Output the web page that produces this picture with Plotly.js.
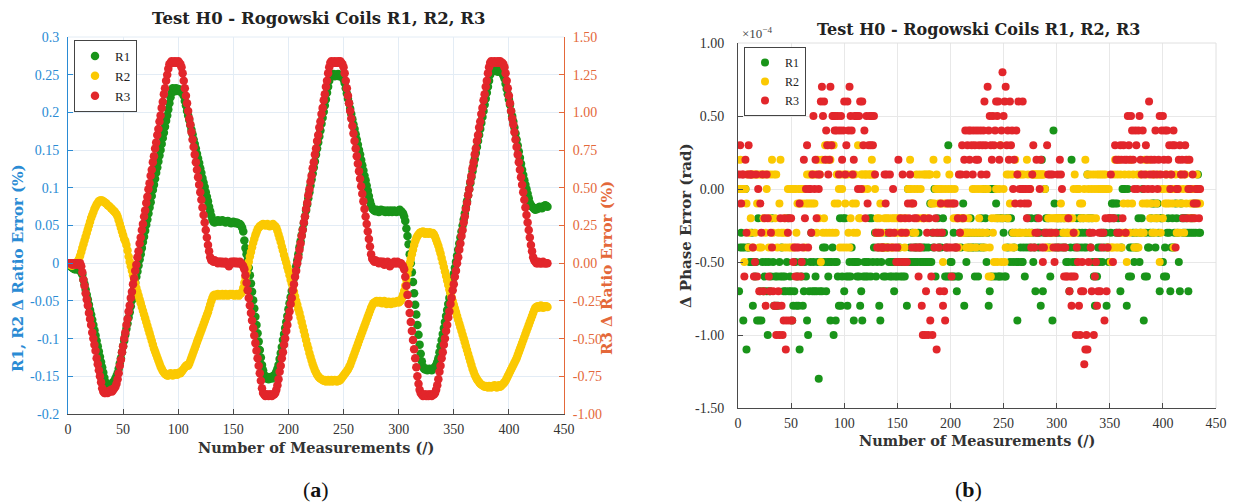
<!DOCTYPE html>
<html>
<head>
<meta charset="utf-8">
<script src="https://cdn.plot.ly/plotly-3.0.1.min.js"></script>
<style>
html,body{margin:0;padding:0;background:#fff;}
#chart{width:1233px;height:502px;}
</style>
</head>
<body>
<div id="chart"></div>
<script>
// ---------------- DATA ----------------
const seriesNames = ['R1', 'R2', 'R3'];
const xTicks = [0, 50, 100, 150, 200, 250, 300, 350, 400, 450];
const xTickText = ['0', '50', '100', '150', '200', '250', '300', '350', '400', '450'];
const ratioTicks = [-0.2, -0.15, -0.1, -0.05, 0, 0.05, 0.1, 0.15, 0.2, 0.25, 0.3];
const ratioTickText = ['-0.2', '-0.15', '-0.1', '-0.05', '0', '0.05', '0.1', '0.15', '0.2', '0.25', '0.3'];
const r3Ticks = [-1, -0.75, -0.5, -0.25, 0, 0.25, 0.5, 0.75, 1, 1.25, 1.5];
const r3TickText = ['-1.00', '-0.75', '-0.50', '-0.25', '0.00', '0.25', '0.50', '0.75', '1.00', '1.25', '1.50'];
const phaseTicks = [-1.5, -1, -0.5, 0, 0.5, 1];
const phaseTickText = ['-1.50', '-1.00', '-0.50', '0.00', '0.50', '1.00'];

// (a) ratio error, R1 and R2 in %, left axis
const ratioR1 = [0.000,-0.003,-0.005,-0.006,-0.007,-0.008,-0.008,-0.007,-0.008,-0.009,-0.010,-0.012,
-0.015,-0.022,-0.028,-0.035,-0.042,-0.048,-0.055,-0.062,-0.068,-0.075,-0.082,-0.089,-0.096,-0.103,-0.110,-0.117,-0.124,-0.131,-0.138,-0.145,-0.152,
-0.158,-0.162,-0.163,-0.162,-0.163,-0.161,-0.160,-0.158,-0.156,-0.153,-0.150,
-0.146,-0.140,-0.133,-0.126,-0.118,-0.110,-0.103,-0.095,-0.087,-0.080,-0.072,-0.065,-0.057,-0.049,-0.041,-0.034,-0.026,-0.018,-0.011,-0.003,0.005,0.012,0.020,0.028,0.035,0.043,0.051,0.058,0.066,0.074,0.081,0.089,0.097,0.104,0.112,0.120,0.127,0.135,0.143,0.150,0.158,0.166,0.173,0.181,0.189,0.196,0.204,0.212,
0.220,0.226,0.232,0.230,0.228,0.232,0.229,0.231,0.228,0.230,0.227,0.225,0.222,
0.215,0.209,0.202,0.196,0.190,0.183,0.177,0.171,0.164,0.158,0.152,0.145,0.139,0.133,0.126,0.120,0.113,0.107,0.101,0.094,0.088,0.082,0.075,0.069,0.063,0.058,
0.055,0.054,0.056,0.055,0.057,0.056,0.055,0.056,0.057,0.056,0.055,0.054,0.055,0.056,0.055,0.054,0.053,0.054,0.055,0.054,0.053,0.054,0.053,0.052,0.052,0.050,0.047,
0.042,0.030,0.020,0.012,0.004,
-0.006,-0.016,-0.027,-0.038,-0.049,-0.060,-0.071,-0.082,-0.093,-0.104,-0.115,-0.125,-0.135,-0.142,-0.148,
-0.152,-0.153,-0.151,-0.154,-0.152,-0.151,-0.153,-0.150,-0.149,-0.147,-0.144,-0.140,
-0.135,-0.127,-0.119,-0.111,-0.102,-0.094,-0.086,-0.078,-0.070,-0.061,-0.053,-0.045,-0.037,-0.029,-0.020,-0.012,-0.004,0.004,0.012,0.021,0.029,0.037,0.045,0.053,0.062,0.070,0.078,0.086,0.094,0.103,0.111,0.119,0.127,0.135,0.144,0.152,0.160,0.168,0.176,0.185,0.193,0.201,0.209,0.217,0.226,0.234,0.242,
0.248,0.250,0.249,0.251,0.248,0.250,0.249,0.251,0.248,0.250,0.249,0.247,0.244,
0.239,0.232,0.225,0.218,0.212,0.205,0.198,0.191,0.184,0.178,0.171,0.164,0.157,0.150,0.144,0.137,0.130,0.123,0.116,0.110,0.103,0.096,0.089,0.082,0.077,0.073,
0.071,0.070,0.069,0.071,0.070,0.068,0.069,0.071,0.070,0.069,0.070,0.068,0.069,0.070,0.068,0.069,0.070,0.068,0.069,0.070,0.069,0.068,0.069,0.070,0.071,0.069,0.068,0.066,0.062,
0.056,0.046,0.036,0.025,0.012,0.000,-0.012,-0.025,-0.040,-0.055,-0.068,-0.082,-0.095,-0.108,-0.120,-0.130,
-0.137,-0.140,-0.141,-0.140,-0.142,-0.141,-0.140,-0.141,-0.142,-0.140,-0.139,-0.138,-0.135,-0.131,
-0.126,-0.118,-0.110,-0.102,-0.094,-0.086,-0.078,-0.070,-0.062,-0.054,-0.046,-0.038,-0.030,-0.022,-0.014,-0.006,0.002,0.010,0.018,0.026,0.034,0.042,0.050,0.058,0.066,0.074,0.082,0.090,0.098,0.106,0.114,0.122,0.130,0.138,0.146,0.154,0.162,0.170,0.178,0.186,0.194,0.202,0.210,0.218,0.226,0.234,0.242,
0.250,0.254,0.256,0.255,0.257,0.255,0.256,0.254,0.256,0.255,0.254,0.252,0.249,0.245,
0.238,0.231,0.224,0.217,0.210,0.202,0.195,0.188,0.180,0.172,0.164,0.156,0.148,0.140,0.132,0.124,0.117,0.110,0.104,0.098,0.092,0.086,0.080,0.077,
0.075,0.074,0.072,0.071,0.073,0.072,0.074,0.075,0.074,0.073,0.075,0.076,0.077,0.076,0.075];

const ratioR2 = [0.000,-0.002,-0.003,-0.003,-0.002,-0.001,0.000,0.001,0.003,0.006,
0.010,0.015,0.020,0.025,0.030,0.035,0.040,0.045,0.050,0.055,0.060,0.064,0.068,0.072,0.075,0.078,0.080,0.082,
0.083,0.083,
0.083,0.082,0.081,0.080,0.079,0.077,0.076,0.075,0.073,0.072,0.070,0.069,0.067,0.065,
0.062,0.057,0.052,0.047,0.042,0.037,0.032,0.029,0.024,0.017,0.009,0.002,-0.004,-0.010,-0.016,-0.022,-0.027,-0.033,-0.038,-0.043,-0.048,-0.053,-0.058,-0.063,-0.068,-0.073,-0.078,-0.083,-0.088,-0.093,-0.098,-0.103,-0.108,-0.113,-0.117,-0.121,-0.125,-0.129,-0.133,-0.137,-0.140,-0.143,-0.145,-0.147,-0.148,-0.149,
-0.149,-0.148,-0.146,-0.147,-0.149,-0.148,-0.146,-0.147,-0.148,-0.146,-0.145,-0.146,-0.144,-0.142,-0.140,
-0.138,-0.136,-0.135,-0.136,-0.133,-0.129,-0.125,-0.121,-0.117,-0.113,-0.109,-0.105,-0.101,-0.097,-0.093,-0.089,-0.085,-0.081,-0.077,-0.073,-0.069,-0.065,-0.060,-0.055,-0.050,-0.046,
-0.043,-0.042,-0.043,-0.042,-0.041,-0.043,-0.042,-0.042,-0.041,-0.043,-0.042,-0.041,-0.042,-0.043,-0.042,-0.041,-0.042,-0.041,-0.042,-0.043,-0.042,-0.041,-0.042,-0.043,-0.041,-0.040,-0.038,
-0.033,-0.026,-0.019,-0.012,-0.005,0.002,0.009,0.015,0.021,0.027,0.032,0.037,0.041,0.045,0.047,0.049,0.050,0.051,0.052,0.051,
0.050,0.051,0.052,0.050,0.049,0.050,0.051,0.052,0.050,0.049,0.047,0.043,
0.038,0.033,0.028,0.022,0.017,0.011,0.006,0.001,-0.005,-0.010,-0.016,-0.022,-0.027,-0.033,-0.038,-0.044,-0.050,-0.055,-0.061,-0.066,-0.072,-0.078,-0.084,-0.090,-0.096,-0.102,-0.108,-0.113,-0.119,-0.124,-0.129,-0.134,-0.138,-0.142,-0.145,-0.148,-0.150,-0.152,-0.153,-0.154,
-0.155,-0.156,-0.155,-0.157,-0.156,-0.155,-0.157,-0.156,-0.155,-0.157,-0.156,-0.155,-0.156,-0.157,-0.155,-0.156,-0.155,-0.153,-0.151,-0.149,-0.147,-0.145,
-0.143,-0.141,-0.138,-0.135,-0.131,-0.127,-0.123,-0.119,-0.115,-0.111,-0.107,-0.103,-0.099,-0.095,-0.091,-0.087,-0.083,-0.079,-0.075,-0.071,-0.067,-0.063,-0.059,-0.056,
-0.053,-0.052,-0.051,-0.050,-0.052,-0.051,-0.050,-0.052,-0.053,-0.051,-0.050,-0.052,-0.054,-0.052,-0.051,-0.053,-0.054,-0.052,-0.051,-0.053,-0.052,-0.051,-0.050,-0.052,-0.051,-0.049,-0.046,-0.042,
-0.037,-0.030,-0.022,-0.014,-0.007,0.000,0.006,0.012,0.018,0.024,0.029,0.033,0.036,0.038,0.040,0.041,
0.041,0.042,0.040,0.039,0.041,0.040,0.039,0.041,0.040,0.039,0.040,0.038,0.035,0.031,
0.027,0.023,0.018,0.013,0.007,0.001,-0.005,-0.011,-0.017,-0.023,-0.029,-0.035,-0.040,-0.045,-0.050,-0.055,-0.060,-0.065,-0.070,-0.075,-0.080,-0.085,-0.090,-0.095,-0.100,-0.105,-0.110,-0.115,-0.120,-0.125,-0.130,-0.135,-0.140,-0.144,-0.148,-0.151,-0.154,-0.156,-0.158,-0.160,-0.161,-0.162,-0.163,-0.164,-0.163,-0.164,
-0.165,-0.163,-0.164,-0.165,-0.163,-0.164,-0.162,-0.164,-0.165,-0.163,-0.162,-0.164,-0.163,-0.161,-0.160,-0.158,-0.156,-0.153,
-0.150,-0.147,-0.144,-0.141,-0.138,-0.135,-0.132,-0.129,-0.126,-0.122,-0.118,-0.114,-0.110,-0.106,-0.102,-0.098,-0.094,-0.090,-0.086,-0.082,-0.078,-0.074,-0.070,-0.066,-0.062,-0.059,-0.058,
-0.057,-0.059,-0.058,-0.056,-0.058,-0.059,-0.057,-0.058,-0.057,-0.058];

// (a) ratio error, R3 in %, right axis
const ratioR3 = [0.00,0.00,0.00,-0.01,0.00,0.00,-0.01,0.00,0.00,-0.01,0.00,-0.02,
-0.06,-0.11,-0.15,-0.20,-0.24,-0.28,-0.33,-0.37,-0.41,-0.46,-0.50,-0.54,-0.58,-0.63,-0.67,-0.71,-0.75,-0.79,-0.83,-0.85,
-0.86,-0.86,-0.85,-0.86,-0.85,-0.85,-0.84,-0.85,-0.84,-0.83,-0.82,-0.80,-0.77,
-0.73,-0.68,-0.64,-0.59,-0.55,-0.50,-0.46,-0.41,-0.37,-0.32,-0.28,-0.23,-0.19,-0.14,-0.10,-0.05,-0.01,0.04,0.08,0.13,0.17,0.22,0.26,0.31,0.35,0.40,0.44,0.49,0.53,0.58,0.62,0.67,0.71,0.76,0.80,0.85,0.89,0.94,0.98,1.03,1.07,1.12,1.16,1.21,1.25,1.29,
1.32,1.33,1.34,1.33,1.33,1.34,1.33,1.33,1.34,1.33,1.32,1.30,
1.26,1.21,1.16,1.11,1.06,1.01,0.96,0.92,0.87,0.82,0.77,0.72,0.67,0.62,0.57,0.52,0.47,0.42,0.37,0.32,0.27,0.22,0.17,0.12,0.08,0.04,0.02,
0.02,0.01,0.02,0.01,0.01,0.00,0.01,0.01,0.00,0.01,0.00,0.00,0.01,0.00,-0.01,-0.02,0.00,0.01,0.00,0.01,0.01,0.00,0.01,0.00,0.00,0.01,0.00,-0.01,-0.02,-0.04,
-0.08,-0.13,-0.18,-0.23,-0.28,-0.33,-0.38,-0.43,-0.48,-0.53,-0.58,-0.63,-0.68,-0.73,-0.78,-0.83,-0.86,
-0.87,-0.88,-0.87,-0.87,-0.88,-0.87,-0.87,-0.88,-0.87,-0.87,-0.86,-0.84,-0.81,
-0.77,-0.72,-0.68,-0.63,-0.59,-0.54,-0.50,-0.45,-0.41,-0.36,-0.32,-0.27,-0.23,-0.18,-0.14,-0.09,-0.05,0.00,0.04,0.09,0.13,0.18,0.22,0.27,0.31,0.36,0.40,0.45,0.49,0.54,0.58,0.63,0.67,0.72,0.76,0.81,0.85,0.90,0.94,0.99,1.03,1.08,1.12,1.17,1.21,1.26,1.30,
1.33,1.34,1.33,1.33,1.34,1.33,1.33,1.34,1.33,1.34,1.33,1.32,1.30,
1.26,1.21,1.16,1.11,1.06,1.01,0.96,0.91,0.86,0.81,0.76,0.71,0.66,0.61,0.56,0.51,0.46,0.41,0.36,0.31,0.26,0.21,0.16,0.11,0.06,0.03,
0.02,0.01,0.02,0.01,0.01,0.00,0.01,0.01,0.00,0.01,-0.01,0.00,0.00,0.01,0.00,-0.02,-0.01,0.00,0.00,0.01,0.00,0.00,0.01,0.00,0.00,0.00,-0.01,-0.02,-0.04,
-0.09,-0.15,-0.21,-0.27,-0.33,-0.39,-0.45,-0.51,-0.57,-0.63,-0.69,-0.75,-0.80,-0.84,-0.86,
-0.87,-0.88,-0.87,-0.87,-0.88,-0.87,-0.88,-0.87,-0.87,-0.88,-0.87,-0.87,-0.86,-0.84,-0.81,
-0.77,-0.72,-0.68,-0.63,-0.59,-0.54,-0.50,-0.45,-0.41,-0.36,-0.32,-0.27,-0.23,-0.18,-0.14,-0.09,-0.05,0.00,0.04,0.09,0.13,0.18,0.22,0.27,0.31,0.36,0.40,0.45,0.49,0.54,0.58,0.63,0.67,0.72,0.76,0.81,0.85,0.90,0.94,0.99,1.03,1.08,1.12,1.17,1.21,1.26,1.30,
1.33,1.34,1.33,1.33,1.34,1.33,1.33,1.34,1.33,1.34,1.33,1.33,1.32,1.30,
1.26,1.21,1.16,1.11,1.06,1.01,0.96,0.92,0.87,0.82,0.77,0.72,0.67,0.62,0.57,0.52,0.47,0.42,0.37,0.32,0.27,0.22,0.17,0.12,0.08,0.04,0.02,
0.01,0.00,0.00,0.01,0.00,0.00,0.00,0.01,0.00,0.00,0.00,0.00];

// (b) phase error, in units of 1e-4 rad
const phaseR1 = [-0.7,-0.4,-0.3,-0.4,-0.9,-0.4,0.0,-1.1,-0.4,-0.4,
-0.5,-0.5,-0.3,-0.8,-0.5,-0.6,-0.5,-0.9,-0.2,-0.9,
-0.7,-0.9,-0.5,-0.7,-0.6,-0.5,-0.7,-1.0,-0.5,-0.7,
-0.6,-0.2,-0.5,-0.8,-0.6,-0.8,-0.6,-0.8,-0.5,-0.6,
-0.4,-0.6,-0.7,-0.6,-0.7,-0.5,-0.2,-0.7,-0.6,-0.7,
-0.9,-0.8,-0.7,-0.5,-0.8,-0.6,-0.8,-1.1,-0.5,-0.6,
-0.8,-0.7,-0.5,-0.6,-0.9,-1.0,-0.7,-0.5,-0.3,-0.7,
-0.5,-0.7,-0.6,-0.7,-0.5,-1.3,-0.7,-0.5,-0.7,-0.4,
-0.5,-0.4,-0.7,-0.5,-0.6,-0.5,-0.9,-0.5,-0.4,-1.0,
-0.5,-0.9,-0.5,-0.6,-0.8,-0.2,-0.8,-0.6,-0.2,-0.7,
-0.2,-0.6,-0.8,-0.6,-0.5,-0.6,-0.4,-0.5,-0.9,-0.5,
-0.5,-0.6,-0.5,-0.6,-0.8,-0.7,-0.9,-0.6,-0.5,-0.6,
-0.5,-0.6,-0.5,-0.2,-0.6,-0.2,-0.5,-0.4,-0.3,-0.6,
-0.5,-0.4,-0.8,-0.9,-0.5,-0.4,-0.6,-0.4,-0.6,-0.3,
-0.4,-0.5,-0.6,-0.5,-0.6,-0.5,-0.7,-0.6,-0.5,-0.6,
-0.5,-0.4,-0.6,-0.5,-0.6,-0.5,-0.6,-0.5,-0.8,0.0,
-0.5,-0.4,-0.5,-0.3,-0.5,-0.4,-0.5,-0.4,-0.5,-0.3,
-0.4,-0.5,-0.5,-0.4,-0.5,-0.4,-0.5,-0.5,-0.4,-0.5,
-0.1,-0.5,-0.3,-0.4,0.0,-0.6,-0.3,-0.2,-0.4,-0.3,
-0.4,-0.3,-0.2,-0.3,-0.6,-0.4,-0.6,0.3,-0.6,-0.5,
-0.5,-0.6,-0.3,-0.6,-0.4,-0.7,-0.6,-0.6,-0.3,-0.4,
-0.2,-0.1,-0.8,-0.3,-0.5,-0.3,-0.4,-0.3,-0.2,-0.4,
-0.3,-0.4,-0.6,-0.3,-0.4,-0.6,-0.3,-0.4,-0.2,-0.3,
-0.4,0.0,-0.2,-0.5,-0.3,-0.8,-0.7,0.0,-0.6,0.0,
0.0,-0.6,-0.1,-0.2,-0.6,-0.6,-0.2,-0.6,-0.2,-0.3,
-0.6,-0.6,-0.2,-0.4,-0.2,-0.5,-0.2,-0.3,-0.5,-0.4,
-0.3,-0.5,-0.9,-0.5,-0.3,-0.4,-0.5,-0.5,-0.4,-0.6,
-0.3,-0.4,-0.2,-0.3,-0.4,-0.2,-0.3,-0.5,-0.4,-0.7,
-0.2,-0.3,-0.4,-0.3,-0.8,0.2,-0.7,-0.3,0.0,-0.2,
-0.3,-0.2,-0.4,-0.6,-0.3,-0.9,0.4,-0.1,-0.4,-0.3,
-0.2,-0.4,-0.3,-0.2,-0.4,-0.3,-0.2,-0.4,-0.5,-0.3,
-0.5,-0.7,-0.4,0.2,-0.5,-0.3,-0.4,-0.5,-0.2,-0.4,
-0.3,-0.2,-0.4,-0.3,-0.2,-0.4,-0.3,-0.4,0.1,-0.2,
-0.3,-0.4,-0.2,-0.5,-0.6,-0.8,-0.5,-0.6,-0.4,-0.5,
-0.4,-0.3,-0.5,-0.3,-0.4,-0.3,-0.8,-0.4,-0.5,-0.2,
-0.3,-0.1,-0.1,-0.2,-0.1,-0.3,-0.1,-0.2,-0.3,-0.7,
-0.4,0.0,0.0,0.0,-0.3,-0.8,0.0,-0.6,-0.4,-0.6,
-0.4,-0.3,-0.5,-0.4,-0.3,-0.4,-0.2,-0.5,-0.3,-0.2,
0.0,-0.9,-0.6,-0.3,-0.6,-0.4,-0.4,-0.3,-0.2,-0.1,
-0.3,-0.1,-0.4,-0.2,-0.1,-0.3,-0.7,-0.2,-0.2,-0.5,
-0.6,-0.4,-0.6,-0.3,-0.2,-0.3,-0.7,-0.4,-0.2,-0.4,
-0.3,-0.1,-0.2,-0.3,-0.5,-0.7,-0.1,-0.2,-0.3,-0.2,
-0.3,-0.2,-0.3,-0.7,-0.3,-0.2,-0.3,-0.2,-0.3,-0.1,
-0.3,0.0,0.1,-0.3,-0.3];

const phaseR2 = [0.0,0.2,0.0,0.0,0.0,-0.5,0.0,-0.1,0.1,-0.4,
-0.3,-0.2,0.1,-0.4,0.1,-0.3,0.1,-0.1,0.1,-0.4,
0.1,-0.4,0.1,-0.2,0.1,-0.3,0.0,0.1,-0.4,-0.2,
0.1,0.2,-0.3,0.1,-0.2,0.1,-0.4,-0.3,-0.1,0.2,
-0.3,-0.4,-0.3,-0.2,-0.4,-0.3,0.0,-0.4,0.0,-0.4,
0.0,-0.4,0.0,0.0,-0.3,-0.1,0.0,-0.1,0.0,0.0,
-0.1,0.0,-0.4,-0.1,0.1,-0.1,0.1,-0.1,0.1,-0.1,
0.1,-0.1,0.1,-0.3,0.2,-0.2,0.1,-0.5,0.2,-0.3,
-0.2,0.3,-0.3,0.2,0.3,-0.3,0.2,0.3,-0.3,0.3,
-0.1,-0.3,0.1,-0.1,0.0,-0.4,0.1,0.0,-0.4,0.1,
-0.1,-0.4,0.1,-0.3,-0.4,-0.2,0.1,-0.1,-0.3,0.1,
-0.1,-0.3,0.3,-0.2,-0.2,0.1,0.1,0.0,0.1,0.1,
0.1,0.0,0.1,0.1,0.1,0.2,0.1,0.1,0.0,-0.3,
-0.2,-0.3,-0.2,-0.1,-0.4,-0.3,-0.4,-0.2,-0.4,-0.2,
-0.4,-0.2,-0.3,-0.4,-0.2,-0.4,-0.2,-0.3,-0.2,-0.3,
-0.2,-0.4,-0.3,-0.2,-0.3,-0.3,-0.4,-0.2,-0.3,0.0,
0.0,0.2,0.0,-0.1,-0.3,0.0,-0.3,0.1,0.0,-0.2,
0.1,0.0,-0.2,0.1,-0.2,0.1,0.1,-0.2,0.1,0.1,
0.1,-0.1,-0.1,0.2,-0.1,0.0,0.1,0.0,-0.1,0.0,
-0.1,0.0,-0.5,-0.1,0.0,-0.1,0.2,0.0,0.1,-0.1,
0.0,-0.1,-0.2,0.0,-0.2,-0.2,-0.2,-0.4,-0.2,-0.3,
-0.2,-0.3,-0.2,-0.3,-0.4,-0.3,-0.2,-0.4,-0.3,-0.4,
0.0,-0.3,0.0,-0.4,-0.3,0.0,-0.2,-0.3,0.0,-0.4,
-0.3,0.0,-0.4,-0.3,0.0,-0.6,-0.4,-0.6,-0.2,-0.3,
-0.5,-0.2,0.0,-0.5,-0.2,0.0,0.3,-0.5,-0.2,0.0,
-0.5,-0.4,0.1,-0.2,0.1,-0.1,-0.4,0.1,-0.3,-0.4,
0.2,-0.3,0.1,-0.3,0.1,-0.3,0.1,-0.3,0.1,0.0,
-0.3,0.2,0.1,-0.3,0.0,-0.3,0.1,0.1,0.1,0.1,
0.1,0.1,0.1,0.1,0.1,0.1,0.1,0.1,0.0,-0.4,
-0.4,-0.2,-0.3,-0.2,-0.4,-0.2,-0.3,-0.2,-0.2,-0.2,
-0.2,-0.2,-0.2,-0.1,-0.2,-0.3,-0.2,-0.3,-0.2,-0.3,
-0.2,-0.3,-0.2,-0.3,-0.2,0.0,0.1,-0.3,0.0,0.0,
0.0,-0.1,-0.2,-0.1,-0.2,0.0,0.2,-0.2,0.1,0.0,
-0.2,0.1,0.0,-0.2,0.1,0.0,-0.2,0.1,0.0,0.1,
0.0,0.1,0.0,0.1,0.0,0.1,0.0,-0.4,0.0,-0.4,
-0.5,-0.4,-0.4,0.1,0.2,-0.4,0.1,-0.4,0.2,0.1,
-0.4,-0.3,-0.1,0.1,-0.3,-0.5,-0.1,0.1,-0.3,0.2,
-0.1,0.1,-0.4,-0.3,-0.4,0.1,-0.4,-0.3,0.1,-0.3,
-0.1,-0.3,0.2,-0.1,0.1,-0.1,0.2,-0.2,-0.1,-0.3,
0.1,-0.2,-0.3,-0.1,-0.2,0.1,-0.5,-0.3,0.0,-0.2,
0.0,-0.1,0.1,-0.1,0.0,-0.1,0.1,0.0,-0.1,-0.4,
0.0,0.1,-0.3,-0.1,0.0,-0.3,0.1,-0.1,0.0,-0.3,
0.1,-0.1,0.0,0.2,-0.2,-0.1,0.0,-0.1,-0.2,0.0,
-0.1,0.1,-0.1,0.0,-0.1];

const phaseR3 = [0.1,0.3,-0.1,0.1,0.1,-0.6,0.2,-0.3,0.1,0.3,
0.1,0.1,0.1,-0.4,-0.6,-0.5,0.1,-0.6,0.0,-0.7,
-0.1,-0.3,0.1,-0.7,-0.2,-0.8,0.1,-0.2,-0.6,-0.7,
-0.3,-0.4,-0.7,-0.8,-0.8,-1.0,-0.8,-0.7,-1.0,-0.2,
-0.8,-1.0,-0.9,-0.2,-1.1,-0.9,-0.3,-0.2,-0.9,-0.2,
-0.9,-0.5,-0.4,-0.6,-0.4,-0.6,-0.4,-0.1,-0.6,-0.5,
-0.4,0.2,-0.2,0.0,0.3,-0.4,0.0,0.0,-0.3,0.1,
0.5,0.0,0.2,-0.2,0.1,0.0,0.1,0.6,0.7,0.5,
0.6,0.2,0.4,0.3,0.1,0.2,0.7,0.3,0.5,0.5,
0.4,0.5,0.4,0.5,0.1,0.4,0.5,0.2,0.4,0.6,
0.1,0.3,0.6,0.4,0.7,0.5,0.4,0.1,0.2,0.5,
0.5,0.5,0.0,0.5,0.6,0.0,0.6,0.3,0.4,-0.2,
0.5,-0.1,0.3,0.5,0.3,0.5,0.3,0.5,0.1,-0.3,
-0.4,-0.3,-0.4,-0.3,-0.4,-0.4,-0.4,0.1,-0.1,0.1,
-0.4,-0.3,0.1,-0.3,-0.4,0.0,-0.3,-0.4,-0.5,-0.4,
0.2,-0.5,-0.2,-0.3,0.1,-0.5,-0.2,-0.3,-0.5,-0.1,
-0.2,0.1,-0.1,-0.4,-0.1,-0.2,-0.4,-0.2,-0.4,-0.6,
-0.4,-0.4,-0.8,-1.0,-0.2,-1.0,-0.7,-0.3,-1.0,-0.2,
-0.9,-0.6,-1.0,-0.3,-0.4,-0.2,-1.1,-0.3,-0.4,-0.7,
-0.1,-0.3,-0.8,-0.7,-0.9,-0.4,-0.1,-0.4,-0.1,-0.4,
-0.6,-0.1,-0.4,-0.1,-0.4,-0.4,-0.2,0.1,-0.3,0.1,
0.3,-0.2,0.2,0.4,0.1,0.3,0.4,0.2,0.4,0.3,
0.1,0.4,0.3,0.2,0.4,0.2,0.3,0.4,0.1,0.3,
0.4,0.6,0.3,0.1,0.7,0.4,0.5,0.3,0.2,0.5,
0.3,0.4,0.6,0.5,0.6,0.2,0.3,0.4,0.8,0.5,
0.6,0.7,0.3,0.4,0.2,0.6,0.3,0.4,0.0,0.2,
-0.1,0.4,0.1,0.6,0.0,-0.1,0.0,0.6,0.0,-0.1,
0.0,-0.2,-0.1,0.0,0.0,-0.4,0.1,0.3,-0.4,-0.3,
0.2,-0.3,-0.2,0.0,0.2,-0.4,-0.5,-0.4,-0.3,-0.3,
0.3,0.1,-0.3,0.1,-0.3,0.1,-0.4,-0.5,-0.3,-0.4,
0.1,-0.4,0.2,0.1,0.0,-0.4,-0.6,-0.4,-0.6,-0.6,
-0.2,-0.7,-0.6,-0.8,-0.6,-0.3,-0.6,-1.0,-0.4,-0.5,
-0.8,-1.0,-0.7,-0.5,-0.7,-1.2,-1.1,-1.0,-1.1,-0.5,
-0.3,-0.4,-0.7,-0.3,-1.0,-0.6,-0.5,-0.8,-0.7,-0.3,
-0.7,-0.3,-0.4,-0.3,-0.9,-0.2,-0.7,-0.4,-0.2,-0.2,
0.1,-0.2,-0.5,-0.2,0.3,0.2,-0.3,0.2,-0.3,0.3,
0.2,-0.2,0.3,0.2,-0.3,0.2,0.5,0.3,0.2,0.5,
0.4,0.2,0.0,0.4,0.3,0.0,0.4,0.5,0.2,0.1,
0.4,0.0,0.1,0.3,0.2,0.0,0.6,0.1,0.2,0.0,
0.1,0.2,0.4,0.1,0.0,0.2,0.5,0.1,0.4,0.5,
0.2,0.4,0.1,0.4,0.2,0.3,0.0,0.1,0.3,0.4,
0.3,-0.4,0.0,0.0,0.2,0.3,0.1,0.2,-0.2,0.1,
0.3,0.2,-0.2,0.0,0.2,0.0,-0.2,0.1,-0.1,-0.2,
0.0,-0.1,0.0,-0.2,0.0];

// ---------------- CHECK ----------------
const allSeries = {ratioR1, ratioR2, ratioR3, phaseR1, phaseR2, phaseR3};
const lens = Object.entries(allSeries).map(([k, v]) => k + ':' + v.length);
const n0 = ratioR1.length;
if (Object.values(allSeries).some(v => v.length !== n0)) { throw new Error('length mismatch ' + lens.join(' ')); }
const measurements = ratioR1.map((_, i) => i + 1);

// ---------------- STYLE ----------------
const colors = ['#199419', '#FBC902', '#E2262B'];
const blue = '#2A8BD4';
const orange = '#E4683A';
const serif = '"Liberation Serif", "DejaVu Serif", serif';
const serifB = '"DejaVu Serif", serif';
const W = 1233, H = 502;
const px = x => x / W;
const py = y => 1 - y / H;

const ratioSeries = [ratioR1, ratioR2, ratioR3];
const phaseSeries = [phaseR1, phaseR2, phaseR3];
const traces = [];
seriesNames.forEach((nm, i) => {
  traces.push({
    type: 'scatter', mode: 'markers', name: nm, x: measurements, y: ratioSeries[i],
    xaxis: 'x', yaxis: i === 2 ? 'y2' : 'y', legend: 'legend',
    marker: {color: colors[i], size: 8.5, line: {width: 0}}
  });
});
seriesNames.forEach((nm, i) => {
  traces.push({
    type: 'scatter', mode: 'markers', name: nm, x: measurements, y: phaseSeries[i],
    xaxis: 'x2', yaxis: 'y3', legend: 'legend2',
    marker: {color: colors[i], size: 8, line: {width: 0}}
  });
});

const tickFont = {family: serif, size: 14};
function ann(text, x, y, size, color, opts) {
  return Object.assign({
    text: text, xref: 'paper', yref: 'paper', x: px(x), y: py(y),
    xanchor: 'center', yanchor: 'middle', showarrow: false,
    font: {family: serifB, size: size, color: color}
  }, opts || {});
}
const layout = {
  width: W, height: H,
  margin: {l: 0, r: 0, t: 0, b: 0},
  paper_bgcolor: '#fff', plot_bgcolor: '#fff',
  showlegend: true,
  xaxis: {
    domain: [px(68), px(564)], range: [0, 450], anchor: 'y',
    tickvals: xTicks, ticktext: xTickText, ticks: 'inside', ticklen: 5, tickcolor: '#4a4a4a',
    showline: true, linecolor: '#4a4a4a', linewidth: 1, mirror: false,
    showgrid: true, gridcolor: '#E3ECF5', zeroline: false, ticklabelstandoff: 2,
    tickfont: Object.assign({color: '#333'}, tickFont)
  },
  yaxis: {
    domain: [py(414), py(37)], range: [-0.2, 0.3], anchor: 'x',
    tickvals: ratioTicks, ticktext: ratioTickText, ticks: 'inside', ticklen: 5, tickcolor: blue,
    showline: true, linecolor: blue, linewidth: 1, ticklabelstandoff: 5,
    showgrid: true, gridcolor: '#E3ECF5', zeroline: false,
    tickfont: Object.assign({color: blue}, tickFont)
  },
  yaxis2: {
    overlaying: 'y', side: 'right', anchor: 'x', range: [-1, 1.5],
    tickvals: r3Ticks, ticktext: r3TickText, ticks: 'inside', ticklen: 5, tickcolor: orange,
    showline: true, linecolor: orange, linewidth: 1, ticklabelstandoff: 5,
    showgrid: false, zeroline: false,
    tickfont: Object.assign({color: orange}, tickFont)
  },
  xaxis2: {
    domain: [px(738), px(1216)], range: [0, 450], anchor: 'y3',
    tickvals: xTicks, ticktext: xTickText, ticks: 'inside', ticklen: 5, tickcolor: '#4a4a4a',
    showline: true, linecolor: '#4a4a4a', linewidth: 1, ticklabelstandoff: 2,
    showgrid: true, gridcolor: '#E8E8E8', zeroline: false,
    tickfont: Object.assign({color: '#333'}, tickFont)
  },
  yaxis3: {
    domain: [py(408), py(43)], range: [-1.5, 1.0], anchor: 'x2',
    tickvals: phaseTicks, ticktext: phaseTickText, ticks: 'inside', ticklen: 5, tickcolor: '#4a4a4a',
    showline: true, linecolor: '#4a4a4a', linewidth: 1, ticklabelstandoff: 10,
    showgrid: true, gridcolor: '#E8E8E8', zeroline: false,
    tickfont: Object.assign({color: '#333'}, tickFont)
  },
  legend: {
    x: px(74), y: py(40), xanchor: 'left', yanchor: 'top',
    bgcolor: '#fff', bordercolor: '#444', borderwidth: 1,
    font: {family: serif, size: 13, color: '#222'}, tracegroupgap: 0, itemwidth: 30
  },
  legend2: {
    x: px(744), y: py(47), xanchor: 'left', yanchor: 'top',
    bgcolor: '#fff', bordercolor: '#444', borderwidth: 1,
    font: {family: serif, size: 12, color: '#222'}, tracegroupgap: 0, itemwidth: 30
  },
  shapes: [
    {type: 'line', xref: 'paper', yref: 'paper', x0: px(68), x1: px(564), y0: py(37), y1: py(37), line: {color: '#E3ECF5', width: 1}},
    {type: 'line', xref: 'paper', yref: 'paper', x0: px(738), x1: px(1216), y0: py(43), y1: py(43), line: {color: '#E0E0E0', width: 1}},
    {type: 'line', xref: 'paper', yref: 'paper', x0: px(1216), x1: px(1216), y0: py(408), y1: py(43), line: {color: '#E0E0E0', width: 1}}
  ],
  annotations: [
    ann('<b>Test H0 - Rogowski Coils R1, R2, R3</b>', 318, 19, 16.5, '#222'),
    ann('<b>Test H0 - Rogowski Coils R1, R2, R3</b>', 978, 30, 16, '#222'),
    ann('<b>Number of Measurements (/)</b>', 316, 447, 14.5, '#333'),
    ann('<b>Number of Measurements (/)</b>', 977, 440, 14.5, '#333'),
    ann('<b>R1, R2 Δ Ratio Error (%)</b>', 18, 268, 15, blue, {textangle: -90}),
    ann('<b>R3 Δ Ratio Error (%)</b>', 607, 268, 15, orange, {textangle: -90}),
    ann('<b>Δ Phase Error (rad)</b>', 686, 225, 15, '#333', {textangle: -90}),
    ann('×10<sup>−4</sup>', 740, 33, 13, '#444', {xanchor: 'left', font: {family: serif, size: 13, color: '#444'}}),
    ann('(<b>a</b>)', 316, 489, 22, '#111', {font: {family: serif, size: 22, color: '#111'}}),
    ann('(<b>b</b>)', 968, 489, 22, '#111', {font: {family: serif, size: 22, color: '#111'}})
  ]
};

Plotly.newPlot('chart', traces, layout, {staticPlot: true, displayModeBar: false});
</script>
</body>
</html>
